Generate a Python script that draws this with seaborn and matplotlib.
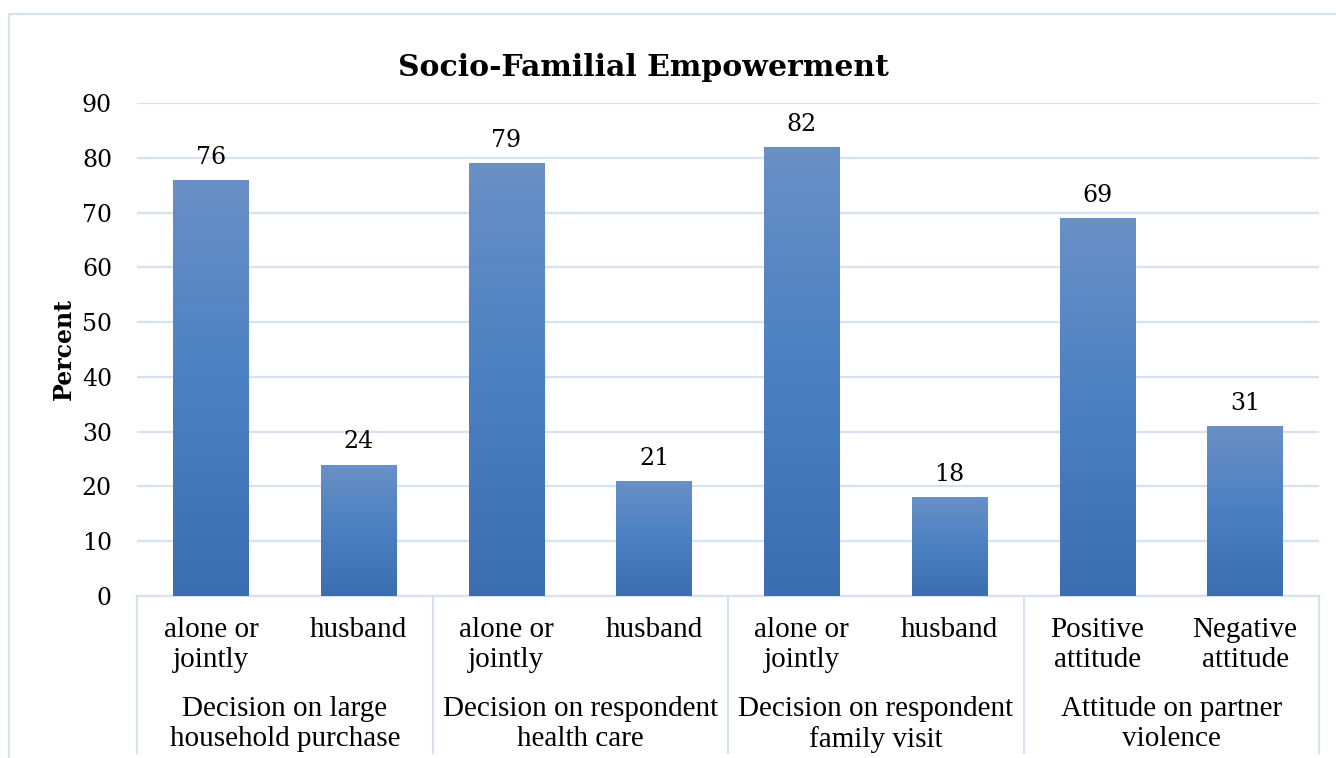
import numpy as np
import pandas as pd
import matplotlib
matplotlib.use("Agg")
import matplotlib.pyplot as plt
import seaborn as sns
from matplotlib.colors import LinearSegmentedColormap
from matplotlib.lines import Line2D

# ---- data ----
groups = ["Decision on large\nhousehold purchase",
          "Decision on respondent\nhealth care",
          "Decision on respondent\nfamily visit",
          "Attitude on partner\nviolence"]
sub_labels = ["alone or\njointly", "husband",
              "alone or\njointly", "husband",
              "alone or\njointly", "husband",
              "Positive\nattitude", "Negative\nattitude"]
values = [76, 24, 79, 21, 82, 18, 69, 31]
y_ticks = [0, 10, 20, 30, 40, 50, 60, 70, 80, 90]

df = pd.DataFrame({"key": [str(i) for i in range(len(values))],
                   "value": values})

sns.set_theme(style="white")
plt.rcParams["text.color"] = "black"
plt.rcParams["ytick.color"] = "black"
plt.rcParams["axes.labelcolor"] = "black"

W, H = 1336, 758
fig = plt.figure(figsize=(W / 100, H / 100), dpi=100)
ax = fig.add_axes([137 / W, 1 - 596 / H, (1319 - 137) / W, (596 - 103) / H])

sns.barplot(data=df, x="key", y="value", ax=ax, color="#4a7fc1",
            width=0.51, saturation=1, errorbar=None, zorder=3)

ax.set_ylim(0, 90)
ax.set_xlim(-0.5, len(values) - 0.5)
ax.set_yticks(y_ticks)
ax.yaxis.grid(True, color="#d6e2f2", linewidth=1.6, zorder=0)
ax.set_axisbelow(True)
for s in ["top", "right", "left"]:
    ax.spines[s].set_visible(False)
ax.spines["bottom"].set_color("#d6e2f2")
ax.spines["bottom"].set_linewidth(1.6)
ax.tick_params(axis="y", length=0, pad=18, labelsize=17, labelcolor="black")
for t in ax.get_yticklabels():
    t.set_family("DejaVu Serif")
ax.set_xticks([])
ax.set_xlabel("")
ax.set_ylabel("Percent", fontsize=17, fontweight="bold", family="DejaVu Serif",
              labelpad=4, color="black")

# gradient fill per bar
cmap = LinearSegmentedColormap.from_list(
    "excel", ["#3b6eb0", "#4a80c2", "#6a90c6"])
grad = np.linspace(0, 1, 256).reshape(-1, 1)
for p in ax.patches:
    x0, w, h = p.get_x(), p.get_width(), p.get_height()
    im = ax.imshow(grad, cmap=cmap, origin="lower", aspect="auto",
                   extent=[x0, x0 + w, 0, h], zorder=3)
    im.set_clip_path(p)
    p.set_facecolor("none")
    p.set_edgecolor("none")
ax.set_xlim(-0.5, len(values) - 0.5)
ax.set_ylim(0, 90)

# value labels
for i, v in enumerate(values):
    ax.annotate(str(v), (i, v), xytext=(0, 8), textcoords="offset points",
                ha="center", va="bottom", fontsize=17, family="DejaVu Serif",
                color="black")

# sub-category labels
trans = ax.get_xaxis_transform()
for i, lab in enumerate(sub_labels):
    ax.text(i, -0.042, lab, transform=trans, ha="center", va="top",
            fontsize=21, family="Liberation Serif", linespacing=1.2,
            clip_on=False, color="black")
# group labels
for g, lab in enumerate(groups):
    ax.text(2 * g + 0.5, -0.202, lab, transform=trans, ha="center", va="top",
            fontsize=21, family="Liberation Serif", linespacing=1.2,
            clip_on=False, color="black")
# group separators
bottom_frac = (596 - 753) / (596 - 103)
for g in range(len(groups) + 1):
    ax.add_line(Line2D([2 * g - 0.5, 2 * g - 0.5], [0, bottom_frac],
                       transform=trans, color="#d6e2f2", linewidth=1.6,
                       clip_on=False))

# title
fig.text(643 / W, 1 - 68 / H, "Socio-Familial Empowerment", ha="center",
         va="center", fontsize=21.5, fontweight="bold", family="DejaVu Serif",
         color="black")

# outer chart frame (left & top visible)
fig.add_artist(Line2D([9 / W, 9 / W], [0, 1 - 14 / H], transform=fig.transFigure,
                      color="#d6e2f2", linewidth=1.6))
fig.add_artist(Line2D([9 / W, 1], [1 - 14 / H, 1 - 14 / H], transform=fig.transFigure,
                      color="#d6e2f2", linewidth=1.6))

fig.savefig("out.png", dpi=100)
